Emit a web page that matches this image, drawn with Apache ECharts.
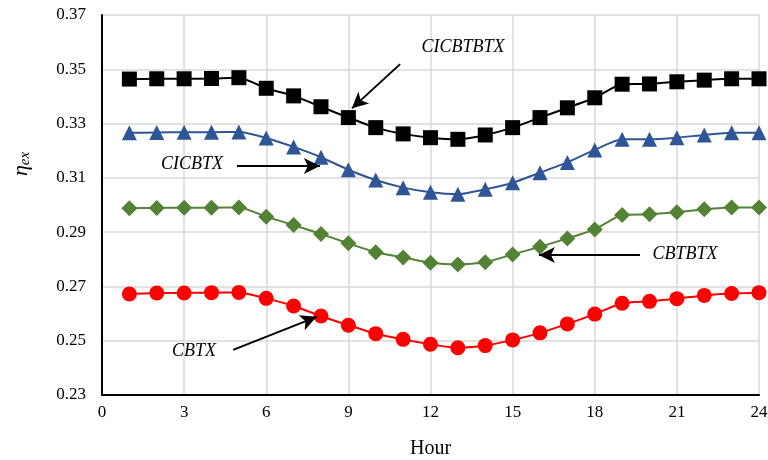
<!DOCTYPE html>
<html>

<head>
    <script src="https://cdn.jsdelivr.net/npm/echarts@6.0.0/dist/echarts.min.js"></script>
</head>

<body style="margin: 0;">
    <div id="echartsMain" style="width: 768px; height: 460px;"></div>
</body>

</html>

<script type="text/javascript">
    let hours = [1, 2, 3, 4, 5, 6, 7, 8, 9, 10, 11, 12, 13, 14, 15, 16, 17, 18, 19, 20, 21, 22, 23, 24]

    let CICBTBTX = [0.3464, 0.3465, 0.3465, 0.3466, 0.3469, 0.3430, 0.3402, 0.3362, 0.3322, 0.3285, 0.3262, 0.3248,
        0.3242, 0.3258, 0.3285, 0.3322, 0.3358, 0.3395, 0.3445, 0.3446, 0.3454, 0.3460, 0.3465, 0.3465]
    let CICBTX = [0.3266, 0.3267, 0.3268, 0.3268, 0.3269, 0.3247, 0.3214, 0.3176, 0.3130, 0.3092, 0.3064, 0.3047,
        0.3040, 0.3058, 0.3082, 0.3119, 0.3157, 0.3203, 0.3242, 0.3242, 0.3248, 0.3258, 0.3266, 0.3266]
    let CBTBTX = [0.2988, 0.2989, 0.2990, 0.2990, 0.2991, 0.2957, 0.2926, 0.2893, 0.2859, 0.2826, 0.2807, 0.2787,
        0.2781, 0.2789, 0.2818, 0.2846, 0.2877, 0.2910, 0.2963, 0.2966, 0.2973, 0.2984, 0.2991, 0.2991]
    let CBTX = [0.2672, 0.2676, 0.2676, 0.2677, 0.2678, 0.2656, 0.2628, 0.2591, 0.2557, 0.2526, 0.2505, 0.2487,
        0.2474, 0.2482, 0.2503, 0.2529, 0.2562, 0.2598, 0.2638, 0.2645, 0.2655, 0.2667, 0.2674, 0.2677]

    // annotation: label position, arrow start, arrow tip (hour, value)
    let labelNames = ['CICBTBTX', 'CICBTX', 'CBTBTX', 'CBTX']
    let labelPos = [[13.19, 0.3582], [3.29, 0.3151], [21.30, 0.2819], [3.36, 0.2462]]
    let arrowFrom = [[10.89, 0.3519], [4.93, 0.3144], [19.65, 0.2816], [4.79, 0.2466]]
    let arrowTo = [[9.13, 0.3356], [7.96, 0.3144], [15.96, 0.2816], [7.84, 0.2588]]

    function draw() {
        let myChart = echarts.init(document.getElementById('echartsMain'));
        let font = '"Liberation Serif", "Times New Roman", serif'

        function pairs(arr) {
            return hours.map((h, i) => [h, arr[i]])
        }

        function makeSeries(name, data, color, symbol, size) {
            return {
                name: name,
                type: 'line',
                data: pairs(data),
                smooth: 0.2,
                symbol: symbol,
                symbolSize: size,
                lineStyle: { color: color, width: 2 },
                itemStyle: { color: color },
                z: 3
            }
        }

        let series = [
            makeSeries('CICBTBTX', CICBTBTX, '#000000', 'rect', 15),
            makeSeries('CICBTX', CICBTX, '#2f5597', 'triangle', 15),
            makeSeries('CBTBTX', CBTBTX, '#548235', 'diamond', 16),
            makeSeries('CBTX', CBTX, '#ff0000', 'circle', 15)
        ]

        // arrows and their labels
        series.push({
            type: 'line',
            data: [],
            silent: true,
            markLine: {
                silent: true,
                symbol: ['none', 'arrow'],
                symbolSize: [12, 16],
                label: { show: false },
                lineStyle: { color: '#000', width: 2, type: 'solid' },
                data: arrowFrom.map((a, i) => [{ coord: a }, { coord: arrowTo[i] }])
            },
            markPoint: {
                silent: true,
                symbol: 'circle',
                symbolSize: 0,
                label: {
                    show: true,
                    position: 'inside',
                    fontFamily: font,
                    fontStyle: 'italic',
                    fontSize: 18,
                    color: '#000',
                    formatter: p => p.name
                },
                data: labelPos.map((p, i) => ({ name: labelNames[i], coord: p }))
            }
        })

        var option = {
            animation: false,
            grid: { left: 102, right: 9, top: 15, bottom: 65, outerBoundsMode: 'none' },
            xAxis: {
                type: 'value',
                min: 0,
                max: 24,
                interval: 3,
                name: 'Hour',
                nameLocation: 'middle',
                nameGap: 44,
                nameTextStyle: { fontFamily: font, fontSize: 20, color: '#000' },
                axisLine: { lineStyle: { color: '#000', width: 2 } },
                axisTick: { show: false },
                axisLabel: { fontFamily: font, fontSize: 17, color: '#000', margin: 9 },
                splitLine: { lineStyle: { color: '#d9d9d9', width: 1.5 } }
            },
            yAxis: {
                type: 'value',
                min: 0.23,
                max: 0.37,
                interval: 0.02,
                axisLine: { show: true, lineStyle: { color: '#000', width: 2 } },
                axisTick: { show: false },
                axisLabel: {
                    fontFamily: font, fontSize: 17, color: '#000', margin: 16,
                    formatter: value => value.toFixed(2)
                },
                splitLine: { lineStyle: { color: '#d9d9d9', width: 1.5 } }
            },
            graphic: [{
                type: 'text',
                x: 21,
                y: 164,
                rotation: Math.PI / 2,
                style: {
                    text: '{a|η}{b|ex}',
                    align: 'center',
                    verticalAlign: 'middle',
                    rich: {
                        a: { fontFamily: font, fontStyle: 'italic', fontSize: 22, fill: '#000' },
                        b: { fontFamily: font, fontStyle: 'italic', fontSize: 15, fill: '#000', padding: [8, 0, 0, 0] }
                    }
                }
            }],
            series: series
        };
        myChart.setOption(option);
    }

    draw()
</script>
